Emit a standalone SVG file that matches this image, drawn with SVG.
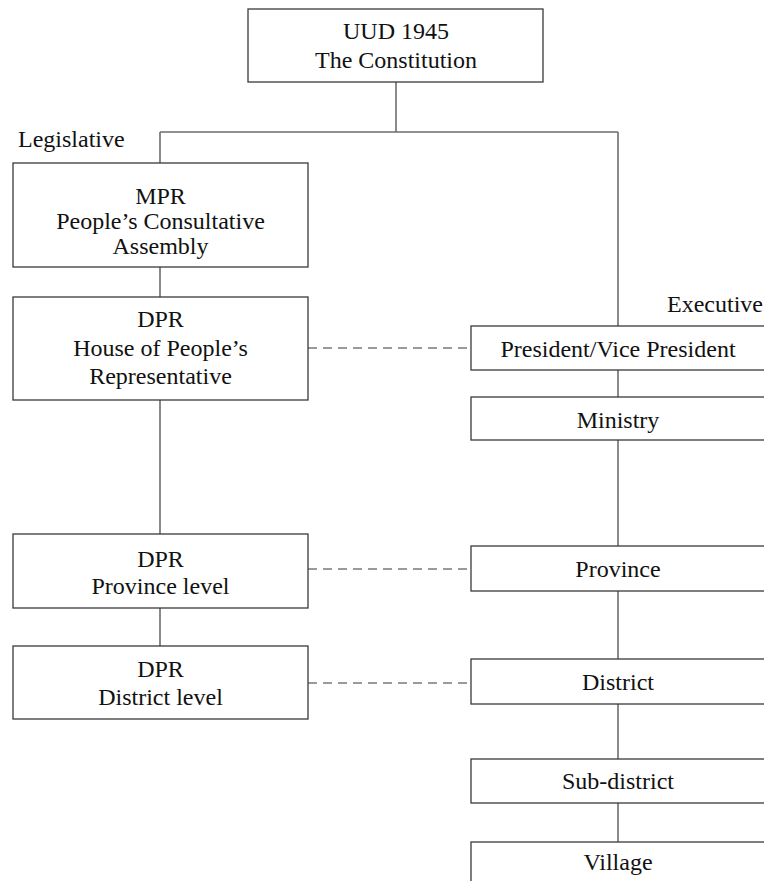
<svg xmlns="http://www.w3.org/2000/svg" width="764" height="881" viewBox="0 0 764 881">
<style>
.box{fill:#fff;stroke:#3a3a3a;stroke-width:1.3}
.c{stroke:#6e6e6e;stroke-width:1.6;fill:none}
.d{stroke:#7a7a7a;stroke-width:1.6;fill:none;stroke-dasharray:9 6}
</style>
<rect width="764" height="881" fill="#fff"/>
<g id="connectors">
<path class="c" d="M396 82V132M160 132H618M160 132V163M618 132V326M160 267V297M160 400V534M160 608V646M618 370V397M618 440V546M618 591V659M618 704V759M618 803V842"/>
<path class="d" d="M308 348H471M308 569H471M308 683H471"/>
</g>
<g font-family="'Liberation Serif', 'Times New Roman', 'DejaVu Serif', serif" font-size="24" fill="#111">
<g id="uud"><rect class="box" x="248" y="9" width="295" height="73"/>
<g text-anchor="middle"><text x="396" y="39">UUD 1945</text><text x="396" y="68">The Constitution</text></g></g>
<text id="legislative" x="18" y="147">Legislative</text>
<text id="executive" x="763" y="312" text-anchor="end">Executive</text>
<g id="mpr" text-anchor="middle"><rect class="box" x="13" y="163" width="295" height="104"/>
<text x="160.5" y="204">MPR</text><text x="160.5" y="229">People’s Consultative</text><text x="160.5" y="254">Assembly</text></g>
<g id="dpr" text-anchor="middle"><rect class="box" x="13" y="297" width="295" height="103"/>
<text x="160.5" y="327">DPR</text><text x="160.5" y="356">House of People’s</text><text x="160.5" y="384">Representative</text></g>
<g id="dpr-province" text-anchor="middle"><rect class="box" x="13" y="534" width="295" height="74"/>
<text x="160.5" y="567">DPR</text><text x="160.5" y="594">Province level</text></g>
<g id="dpr-district" text-anchor="middle"><rect class="box" x="13" y="646" width="295" height="73"/>
<text x="160.5" y="677">DPR</text><text x="160.5" y="705">District level</text></g>
<g id="president" text-anchor="middle"><rect class="box" x="471" y="326" width="300" height="44"/>
<text x="618" y="357">President/Vice President</text></g>
<g id="ministry" text-anchor="middle"><rect class="box" x="471" y="397" width="300" height="43"/>
<text x="618" y="428">Ministry</text></g>
<g id="province" text-anchor="middle"><rect class="box" x="471" y="546" width="300" height="45"/>
<text x="618" y="577">Province</text></g>
<g id="district" text-anchor="middle"><rect class="box" x="471" y="659" width="300" height="45"/>
<text x="618" y="690">District</text></g>
<g id="subdistrict" text-anchor="middle"><rect class="box" x="471" y="759" width="300" height="44"/>
<text x="618" y="789">Sub-district</text></g>
<g id="village" text-anchor="middle"><rect class="box" x="471" y="842" width="300" height="50"/>
<text x="618" y="870">Village</text></g>
</g>
</svg>
